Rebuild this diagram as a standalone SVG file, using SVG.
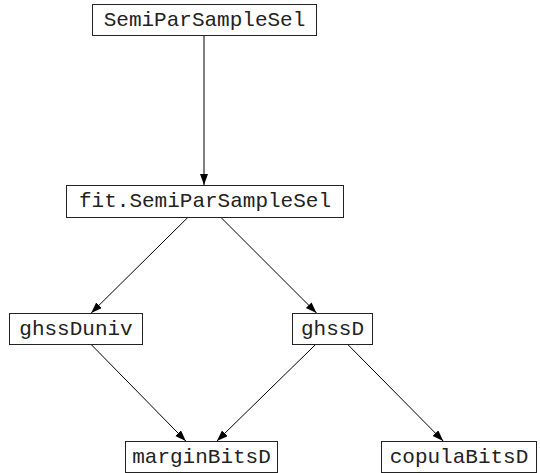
<svg xmlns="http://www.w3.org/2000/svg" width="540" height="473" viewBox="0 0 540 473">
<style>
.box{fill:#fff;stroke:#222;stroke-width:1}
.lbl{font-family:"Liberation Mono","DejaVu Sans Mono",monospace;font-size:21px;fill:#222;text-anchor:middle;dominant-baseline:central}
.edge{stroke:#000;stroke-width:1;fill:none;marker-end:url(#arr)}
</style>
<defs>
<marker id="arr" markerUnits="userSpaceOnUse" markerWidth="12" markerHeight="10" refX="11" refY="4" orient="auto">
<path d="M0,0 L11,4 L0,8 Z" fill="#000"/>
</marker>
</defs>
<rect width="540" height="473" fill="#fff"/>
<g id="connectors">
<line class="edge" x1="204" y1="35" x2="204" y2="185"/>
<line class="edge" x1="188.3" y1="217" x2="91.2" y2="313"/>
<line class="edge" x1="220.5" y1="217" x2="316.5" y2="313"/>
<line class="edge" x1="90.7" y1="344" x2="185.8" y2="441"/>
<line class="edge" x1="316.1" y1="344" x2="216.9" y2="441"/>
<line class="edge" x1="347.3" y1="344" x2="443.2" y2="441"/>
</g>
<g id="SemiParSampleSel"><rect class="box" x="92.5" y="4.5" width="224" height="31"/><text class="lbl" x="204.5" y="20">SemiParSampleSel</text></g>
<g id="fit.SemiParSampleSel"><rect class="box" x="66.5" y="185.5" width="277" height="32"/><text class="lbl" x="205" y="201.5">fit.SemiParSampleSel</text></g>
<g id="ghssDuniv"><rect class="box" x="9.5" y="313.5" width="133" height="31"/><text class="lbl" x="76" y="329">ghssDuniv</text></g>
<g id="ghssD"><rect class="box" x="292.5" y="313.5" width="80" height="31"/><text class="lbl" x="332.5" y="329">ghssD</text></g>
<g id="marginBitsD"><rect class="box" x="125.5" y="441.5" width="152" height="31"/><text class="lbl" x="201.5" y="457">marginBitsD</text></g>
<g id="copulaBitsD"><rect class="box" x="381.5" y="441.5" width="155" height="31"/><text class="lbl" x="459" y="457">copulaBitsD</text></g>
</svg>
